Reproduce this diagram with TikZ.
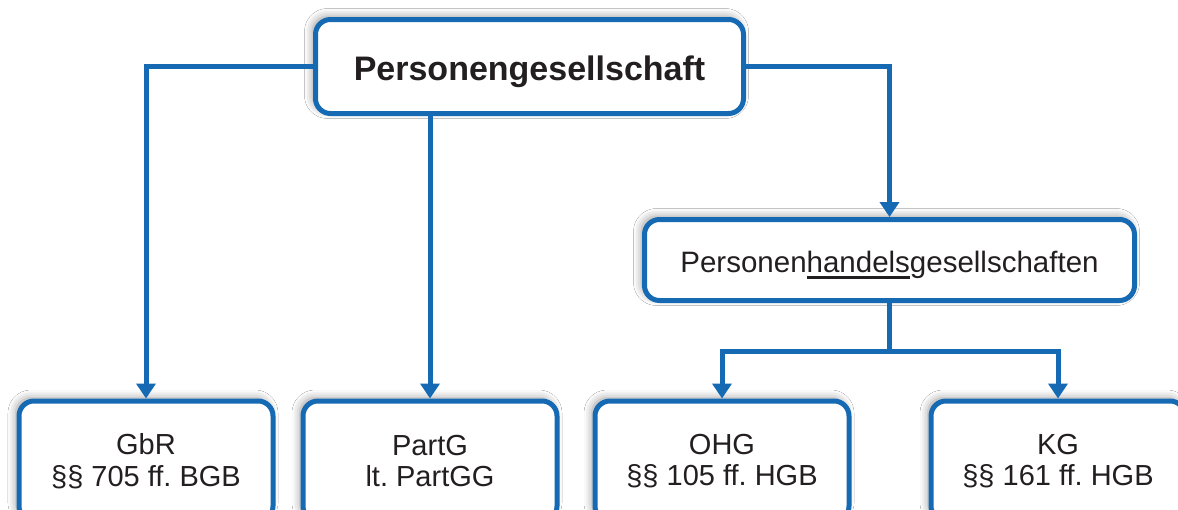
\documentclass[tikz,border=0pt]{standalone}
\usepackage{fontspec}
\setmainfont{Liberation Sans}
\usetikzlibrary{arrows.meta,shadows.blur}
\definecolor{rechtsblau}{RGB}{22,106,180}
\definecolor{schrift}{RGB}{35,31,32}
% dicke Unterstreichung
\newcommand{\unterstr}[1]{\setbox0\hbox{#1}\rlap{\rule[-6.5pt]{\wd0}{2.5pt}}\box0}
\frenchspacing

\begin{document}
\begin{tikzpicture}[
x=1pt, y=-1pt,
kasten/.style={
rectangle,
draw=rechtsblau,
line width=5pt,
rounded corners=15pt,
fill=white,
align=center,
text=schrift,
blur shadow={shadow xshift=-3pt, shadow yshift=3pt, shadow blur radius=8pt, shadow opacity=40}
},
kopf/.style={kasten, minimum width=428pt, minimum height=94pt,
text height=27pt, text depth=0pt, font=\fontsize{34}{40}\selectfont\bfseries},
mitte/.style={kasten, minimum width=490pt, minimum height=81pt,
text height=24pt, text depth=0pt, font=\fontsize{29.5}{34}\selectfont},
blatt/.style={kasten, minimum width=254pt, minimum height=120pt,
font=\fontsize{29}{31.5}\selectfont},
linie/.style={draw=rechtsblau, line width=5pt},
pfeil/.style={linie, -{Triangle[length=15pt,width=19pt]}}
]
\clip (0,0) rectangle (1178,509);
\fill[white] (0,0) rectangle (1178,509);

% Oberbegriff und Zwischenebene
\node[kopf] (pg) at (529.5,66.5) {Personengesellschaft};
\node[mitte] (phg) at (889.5,260) {Personen\unterstr{handels}gesellschaften};

% Gesellschaftsformen
\node[blatt] (gbr) at (146,461) {GbR \\ §§ 705 ff. BGB};
\node[blatt] (partg) at (430,461) {PartG \\ lt. PartGG};
\node[blatt] (ohg) at (722,461) {OHG \\ §§ 105 ff. HGB};
\node[blatt] (kg) at (1058,461) {KG \\ §§ 161 ff. HGB};

\coordinate (gabel) at (889.5,351);

\draw[pfeil] (pg.west) -| (gbr.north);
\draw[pfeil] (pg.south -| partg.north) -- (partg.north);
\draw[pfeil] (pg.east) -| (phg.north);
\draw[linie] (phg.south) -- (gabel);
\draw[pfeil] (gabel) -| (ohg.north);
\draw[pfeil] (gabel) -| (kg.north);
\end{tikzpicture}
\end{document}
